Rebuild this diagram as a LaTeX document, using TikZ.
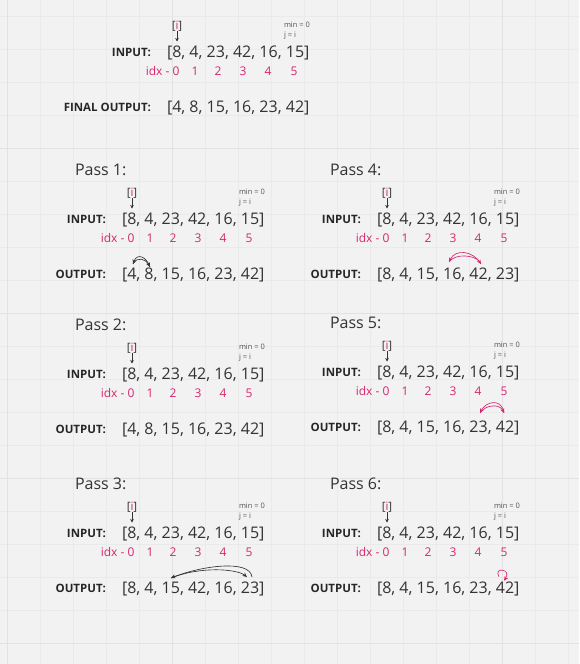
\documentclass[tikz,border=0pt]{standalone}
\usepackage{fontspec}
\setmainfont{Open Sans}
\usetikzlibrary{arrows.meta}
\definecolor{bgcol}{HTML}{F2F2F2}
\definecolor{gridminor}{HTML}{EAEAEA}
\definecolor{gridmajor}{HTML}{E2E2E2}
\definecolor{ink}{HTML}{333333}
\definecolor{idxpink}{HTML}{D6266E}
\definecolor{notegrey}{HTML}{555555}

\tikzset{
  every node/.style={inner sep=0pt, outer sep=0pt, text=ink},
  arr/.style={font=\fontsize{16}{18}\selectfont, anchor=base west},
  rowlabel/.style={font=\fontsize{11.5}{13}\selectfont\bfseries, anchor=base east, text=black!85},
  idxnum/.style={font=\fontsize{12}{14}\selectfont, text=idxpink, anchor=base},
  note/.style={font=\fontsize{7.5}{9}\selectfont, text=notegrey, anchor=base west},
  ptr/.style={font=\fontsize{11.5}{13}\selectfont},
  passtitle/.style={font=\fontsize{16}{18}\selectfont, anchor=west},
  swaparc/.style={line width=0.65pt, -{Stealth[length=4.5pt, width=4pt]}},
}

% #1 name, #2 x, #3 y, #4 output label, #5 output array
\newcommand\passblock[5]{%
  \begin{scope}[shift={(#2,#3)}]
    % pointer
    \node[ptr] (#1-i) at (10,-31.7) {[{\color{idxpink}i}]};
    \coordinate (#1-tip) at (10,-16.2);
    \draw[line width=0.75pt, draw=ink, -{Stealth[length=3.5pt, width=3.5pt]}] (#1-i.south) -- (#1-tip);
    % notes
    \node[note] (#1-min) at (117,-30) {min = 0};
    \node[note] (#1-j) at (117,-20) {j = i};
    % input
    \node[arr] (#1-in) at (0,0) {[8, 4, 23, 42, 16, 15]};
    \node[rowlabel] (#1-inlab) at (-16,-1.5) {INPUT:};
    % idx
    \node[idxnum, anchor=base east] (#1-idx0) at (12.4,17.5) {idx - 0};
    \foreach \d/\x in {1/28, 2/51, 3/76, 4/101, 5/127}
      \node[idxnum] (#1-idx\d) at (\x,17.5) {\d};
    % output
    \node[arr] (#1-out) at (0,55) {#5};
    \node[rowlabel] (#1-outlab) at (-16,53.5) {#4};
  \end{scope}}

\begin{document}
\begin{tikzpicture}[x=1pt, y=-1pt]
  \useasboundingbox (0,0) rectangle (579,664);
  \fill[bgcol] (0,0) rectangle (579,664);
  % grid
  \foreach \k in {0,...,17}
    \draw[gridminor, line width=1pt] (7.5+33*\k,0) -- (7.5+33*\k,664);
  \foreach \k in {0,...,19}
    \draw[gridminor, line width=1pt] (0,16+33*\k) -- (579,16+33*\k);
  \foreach \x in {7.5,172.5,502.5}
    \draw[gridmajor, line width=1pt] (\x,0) -- (\x,664);
  \foreach \y in {148,313,478,643}
    \draw[gridmajor, line width=1pt] (0,\y) -- (579,\y);

  % blocks
  \passblock{top}{167}{57.7}{FINAL OUTPUT:}{[4, 8, 15, 16, 23, 42]}
  \passblock{p1}{122}{224.7}{OUTPUT:}{[4, 8, 15, 16, 23, 42]}
  \passblock{p2}{122}{379.7}{OUTPUT:}{[4, 8, 15, 16, 23, 42]}
  \passblock{p3}{122}{538.7}{OUTPUT:}{[8, 4, 15, 42, 16, 23]}
  \passblock{p4}{377}{224.7}{OUTPUT:}{[8, 4, 15, 16, 42, 23]}
  \passblock{p5}{377}{377.7}{OUTPUT:}{[8, 4, 15, 16, 23, 42]}
  \passblock{p6}{377}{538.7}{OUTPUT:}{[8, 4, 15, 16, 23, 42]}

  % titles
  \foreach \n/\x/\y in {1/122/224.7, 2/122/379.7, 3/122/538.7, 4/377/224.7, 5/377/377.7, 6/377/538.7}
    \node[passtitle] (title\n) at (\x-47,\y-54.7) {Pass \n:};

  % swaps
  \coordinate (s1l) at ([shift={(11,-15.7)}]p1-out.base west);
  \coordinate (s1r) at ([shift={(28,-12.7)}]p1-out.base west);
  \draw[swaparc, draw=ink] (s1r) .. controls +(-4,-11) and +(4,-11) .. (s1l);
  \draw[swaparc, draw=ink] (s1l) .. controls +(4,-8) and +(-4,-8) .. (s1r);

  \coordinate (s3l) at ([shift={(49,-15.7)}]p3-out.base west);
  \coordinate (s3r) at ([shift={(125,-16.7)}]p3-out.base west);
  \coordinate (s3o) at ([shift={(130,-16.7)}]p3-out.base west);
  \draw[swaparc, draw=ink] (s3o) .. controls +(-2,-18) and +(30,-12) .. (s3l);
  \draw[swaparc, draw=ink] (s3l) .. controls +(30,-12) and +(-10,-8) .. (s3r);

  \coordinate (s4l) at ([shift={(72,-17.7)}]p4-out.base west);
  \coordinate (s4r) at ([shift={(104,-15.7)}]p4-out.base west);
  \draw[swaparc, draw=idxpink] (s4r) .. controls +(-8,-14) and +(6,-13) .. (s4l);
  \draw[swaparc, draw=idxpink] (s4l) .. controls +(6,-9) and +(-6,-9) .. (s4r);

  \coordinate (s5l) at ([shift={(103,-19.7)}]p5-out.base west);
  \coordinate (s5r) at ([shift={(127,-19.7)}]p5-out.base west);
  \draw[swaparc, draw=idxpink] (s5r) .. controls +(-2,-15) and +(6,-12) .. (s5l);
  \draw[swaparc, draw=idxpink] (s5l) .. controls +(6,-9) and +(-4,-9) .. (s5r);

  \coordinate (s6a) at ([shift={(122,-17)}]p6-out.base west);
  \coordinate (s6b) at ([shift={(127,-13)}]p6-out.base west);
  \draw[swaparc, draw=idxpink] (s6a) .. controls +(-6,-10) and +(8,-12) .. (s6b);
\end{tikzpicture}
\end{document}
